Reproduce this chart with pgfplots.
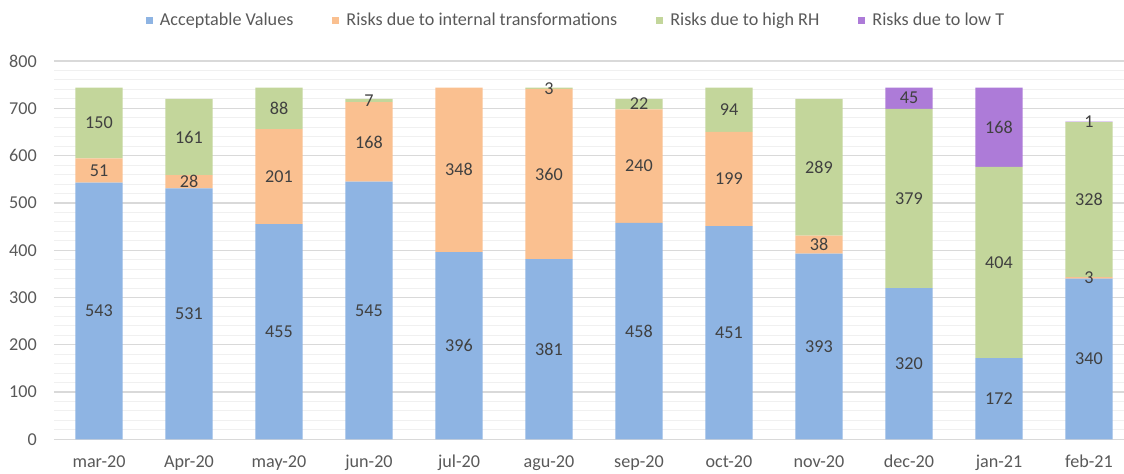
\documentclass[border=0pt]{standalone}
\usepackage{pgfplots}
\pgfplotsset{compat=1.18}
\usepackage{pgfplotstable}
\usepackage{fontspec}
\setmainfont{Carlito}
\definecolor{cA}{HTML}{8EB4E3}
\definecolor{cB}{HTML}{FAC090}
\definecolor{cC}{HTML}{C3D69B}
\definecolor{cD}{HTML}{AD7BD8}
\definecolor{tickc}{HTML}{595959}
\definecolor{labc}{HTML}{404040}
\definecolor{gmaj}{HTML}{D9D9D9}
\definecolor{gmin}{HTML}{F0F0F0}
\pgfplotstableread{
x a b c d
0 543 51 150 0
1 531 28 161 0
2 455 201 88 0
3 545 168 7 0
4 396 348 0 0
5 381 360 3 0
6 458 240 22 0
7 451 199 94 0
8 393 38 289 0
9 320 0 379 45
10 172 0 404 168
11 340 3 328 1
}\data
\begin{document}
\begin{tikzpicture}
\useasboundingbox (-40.5pt,-26pt) rectangle (802.5pt,329.5pt);
\begin{axis}[
  at={(0,0)}, anchor=south west,
  scale only axis, width=810pt, height=283.7pt,
  ybar stacked, bar width=0.523,
  xmin=-0.5, xmax=11.5, ymin=0, ymax=800,
  xtick=data,
  xticklabels={mar-20,Apr-20,may-20,jun-20,jul-20,agu-20,sep-20,oct-20,nov-20,dec-20,jan-21,feb-21},
  ytick={0,100,...,800},
  minor y tick num=4,
  ymajorgrids, yminorgrids,
  major grid style={gmaj, line width=0.9pt},
  minor grid style={gmin, line width=0.75pt},
  axis line style={draw=none},
  major tick length=0pt, minor tick length=0pt,
  tick style={draw=none},
  ticklabel style={font=\fontsize{13.6}{16}\selectfont, text=tickc},
  /pgf/number format/assume math mode=true,
  yticklabel style={anchor=east, inner sep=0pt, xshift=-12.75pt},
  xticklabel style={anchor=base, inner sep=0pt, yshift=-21pt},
  legend columns=4,
  legend cell align=left,
  legend style={at={(0.0848,1.108)}, anchor=west, draw=none, fill=none,
    inner sep=0pt, outer sep=0pt,
    font=\fontsize{13.6}{16}\selectfont, text=tickc,
    nodes={inner xsep=0pt, inner ysep=2pt},
    /tikz/every even column/.append style={column sep=29pt},
    /tikz/every odd column/.append style={column sep=5.6pt}},
  legend image code/.code={\fill[#1,draw=none] (0pt,-2.6pt) rectangle (5.2pt,2.6pt);},
  visualization depends on=rawy \as \rawy,
  nodes near coords={\pgfmathtruncatemacro\v{\rawy}\ifnum\v=0 \else\v\fi},
  every node near coord/.append style={anchor=center, inner sep=0pt,
    font=\fontsize{13.6}{16}\selectfont, text=labc},
]
\addplot[fill=cA, draw=none] table[x=x,y=a]{\data};
\addlegendentry{Acceptable Values}
\addplot[fill=cB, draw=none] table[x=x,y=b]{\data};
\addlegendentry{Risks due to internal transformations}
\addplot[fill=cC, draw=none] table[x=x,y=c]{\data};
\addlegendentry{Risks due to high RH}
\addplot[fill=cD, draw=none] table[x=x,y=d]{\data};
\addlegendentry{Risks due to low T}
\end{axis}
\end{tikzpicture}
\end{document}
